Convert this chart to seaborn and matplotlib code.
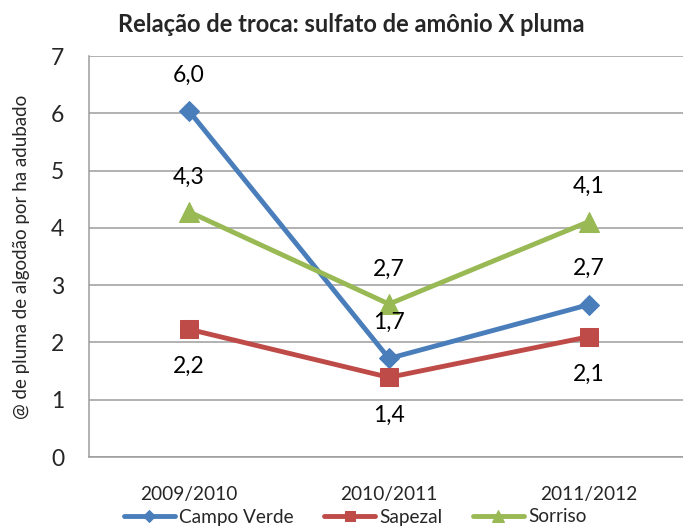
import pandas as pd
import matplotlib.pyplot as plt
import seaborn as sns

safras = ["2009/2010", "2010/2011", "2011/2012"]
campo_verde = [6.04, 1.72, 2.66]
sapezal = [2.23, 1.39, 2.10]
sorriso = [4.28, 2.67, 4.11]

series = {"Campo Verde": campo_verde, "Sapezal": sapezal, "Sorriso": sorriso}
cores = {"Campo Verde": "#4A7EBB", "Sapezal": "#BE4B48", "Sorriso": "#98B954"}
marcadores = {"Campo Verde": "D", "Sapezal": "s", "Sorriso": "^"}
tamanhos = {"Campo Verde": 10.5, "Sapezal": 13, "Sorriso": 14}
# label above (+) or below (-) the point, in points
desloc = {"Campo Verde": 26, "Sapezal": -27, "Sorriso": 25}

rows = []
for nome, vals in series.items():
    for s, v in zip(safras, vals):
        rows.append({"safra": s, "valor": v, "local": nome})
df = pd.DataFrame(rows)

sns.set_style("white")
plt.rcParams['font.family'] = ['Lato', 'DejaVu Sans']

fig = plt.figure(figsize=(6.83, 5.27), dpi=100)
ax = fig.add_axes([89 / 683, 70 / 527, 1 - 89 / 683, 401 / 527])

for nome in series:
    d = df[df["local"] == nome]
    sns.lineplot(data=d, x="safra", y="valor", ax=ax, color=cores[nome],
                 marker=marcadores[nome], markersize=tamanhos[nome],
                 markeredgecolor=cores[nome], linewidth=3.5, label=nome,
                 sort=False)
    for i, v in enumerate(d["valor"]):
        ax.annotate(f"{v:.1f}".replace(".", ","), (i, v), xytext=(0, desloc[nome]),
                    textcoords="offset points", ha="center", va="center",
                    fontsize=16.5, color="black")

ax.set_ylim(0, 7)
ax.set_xlim(-0.5, 2.47)
ax.set_yticks(range(8))
ax.yaxis.grid(True, color="#9c9c9c", linewidth=1.1)
ax.set_axisbelow(True)
ax.set_xlabel("")
ax.set_ylabel("@ de pluma de algodão por ha adubado", fontsize=13.5, labelpad=15)
ax.set_xticks([0, 1, 2])
ax.set_xticklabels(safras, fontsize=13.8)
ax.set_xticks([-0.5, 0.5, 1.5], minor=True)
ax.tick_params(axis="x", which="major", length=0, pad=21)
ax.tick_params(axis="x", which="minor", length=6, color="#9c9c9c", width=1.1)
ax.tick_params(axis="y", length=6, color="#9c9c9c", width=1.1, labelsize=16.5, pad=12)
for lado in ["top", "right"]:
    ax.spines[lado].set_visible(False)
for lado in ["left", "bottom"]:
    ax.spines[lado].set_color("#9c9c9c")
    ax.spines[lado].set_linewidth(1.1)

ax.get_legend().remove()
h, l = ax.get_legend_handles_labels()
fig.legend(h, l, loc="center", bbox_to_anchor=(355 / 683, 1 - 517 / 527), ncol=3,
           frameon=False, fontsize=13.7, handlelength=2.7, handletextpad=0.2,
           columnspacing=1.6, markerscale=0.6)

fig.text(351 / 683, 1 - 24 / 527, "Relação de troca: sulfato de amônio X pluma",
         ha="center", va="center", fontsize=17, fontweight="bold")

fig.savefig("out.png", dpi=100)
